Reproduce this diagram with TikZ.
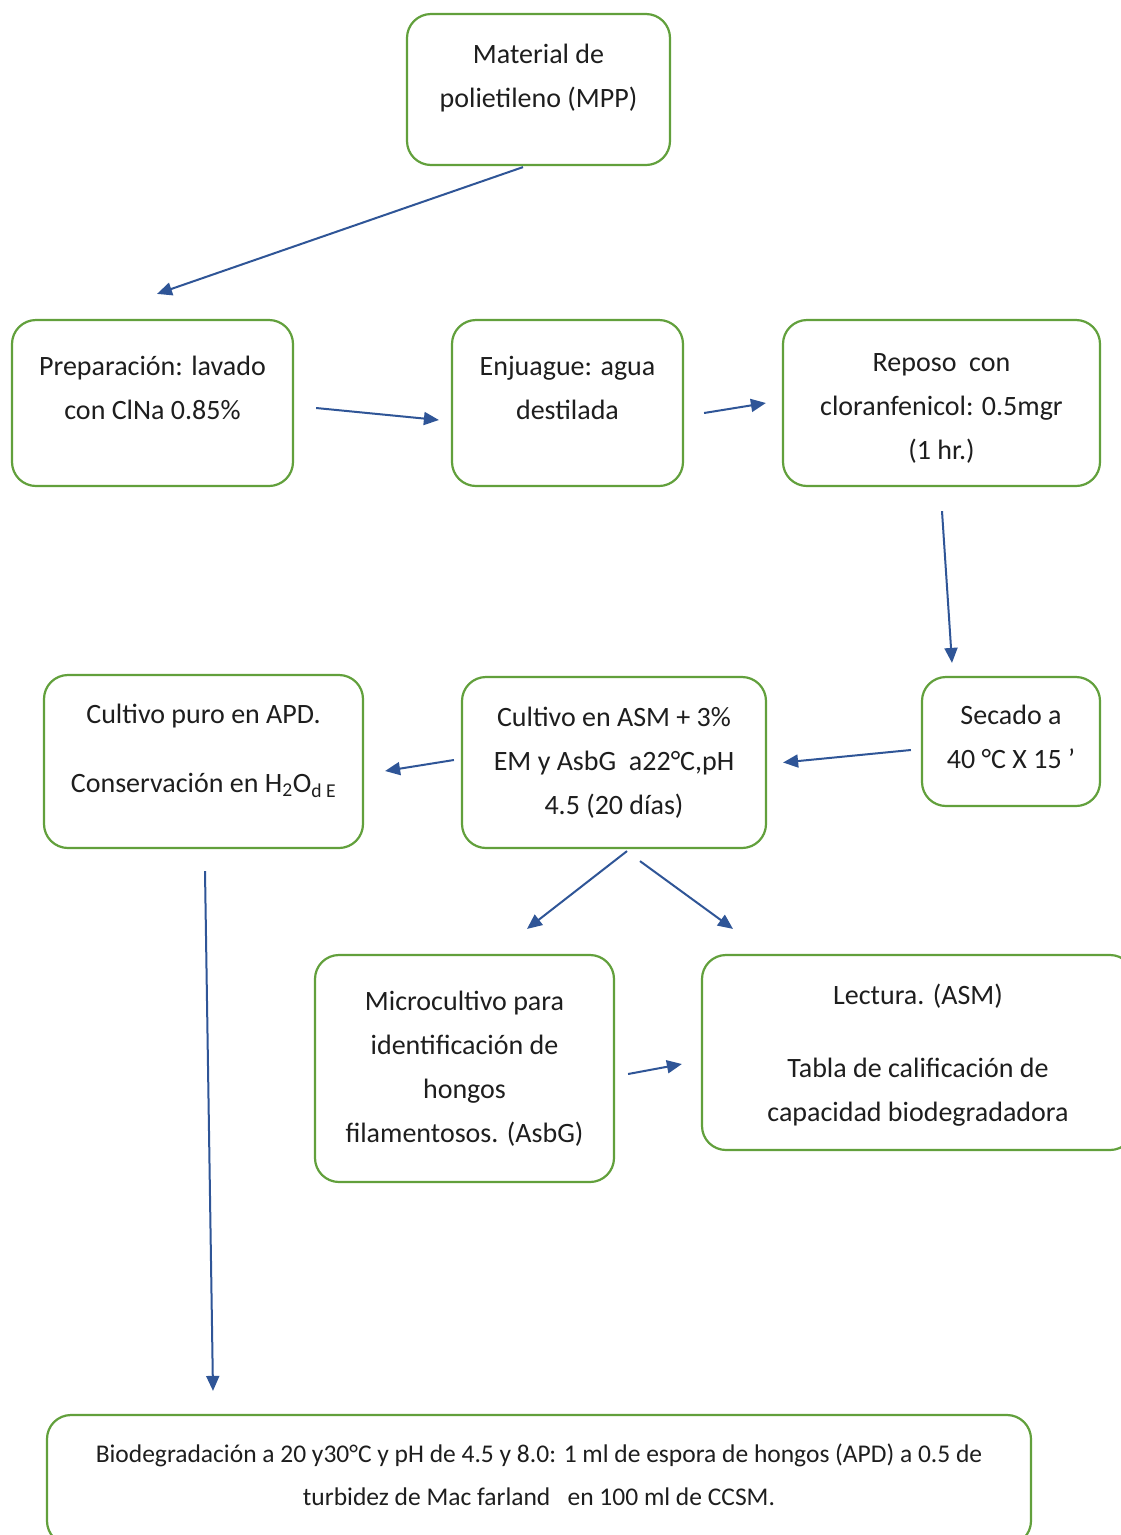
\documentclass[tikz,border=0pt]{standalone}
\usepackage{fontspec}
\setmainfont{Carlito}
\usepackage{tikz}
\usetikzlibrary{arrows.meta}
\definecolor{verde}{RGB}{98,160,60}
\definecolor{azul}{RGB}{47,85,151}
\definecolor{texto}{RGB}{30,30,30}
\tikzset{>/.tip={Triangle[length=15pt,width=13pt]}}
\newcommand{\bajo}[1]{\rule[-#1pt]{0pt}{#1pt}}

\begin{document}
\begin{tikzpicture}[x=1pt,y=-1pt,
  caja/.style={draw=verde, line width=2.2pt, rounded corners=24pt, align=center,
    text=texto, inner sep=0pt, font=\fontsize{28}{44}\selectfont},
  flecha/.style={->, draw=azul, line width=2pt}]
\fill[white] (0,0) rectangle (1121,1535);
\useasboundingbox (0,0) rectangle (1121,1535);
\node[caja, minimum width=263, minimum height=151] (mpp) at (538.5,89.5)
  {Material de\\polietileno (MPP)\bajo{27}};
\node[caja, minimum width=281, minimum height=166] (prep) at (152.5,403)
  {Preparación: lavado\\con ClNa 0.85\%\bajo{30}};
\node[caja, minimum width=231, minimum height=166] (enj) at (567.5,403)
  {Enjuague: agua\\destilada\bajo{30}};
\node[caja, minimum width=317, minimum height=166] (rep) at (941.5,403)
  {\rule{0pt}{29pt}Reposo~~con\\cloranfenicol: 0.5mgr\\(1 hr.)};
\node[caja, minimum width=178, minimum height=129] (sec) at (1011,741.5)
  {Secado a\\40 °C X 15 ’\bajo{10}};
\node[caja, minimum width=304, minimum height=171] (asm) at (614,762.5)
  {Cultivo en ASM + 3\%\\EM y AsbG~~a22°C,pH\\4.5 (20 días)};
\node[caja, minimum width=319, minimum height=173] (puro) at (203.5,761.5)
  {Cultivo puro en APD.\\[25pt]Conservación en H\textsubscript{2}O\textsubscript{d E}\bajo{27}};
\node[caja, minimum width=299, minimum height=227] (micro) at (464.5,1068.5)
  {Microcultivo para\\identificación de\\hongos\\filamentosos. (AsbG)};
\node[caja, minimum width=432, minimum height=195] (lect) at (918,1052.5)
  {\rule{0pt}{26pt}Lectura. (ASM)\\[29pt]Tabla de calificación de\\capacidad biodegradadora};
\node[caja, minimum width=984, minimum height=130, font=\fontsize{25.5}{43}\selectfont] (bio) at (539,1480)
  {Biodegradación a 20 y30°C y pH de 4.5 y 8.0: 1 ml de espora de hongos (APD) a 0.5 de\\turbidez de Mac farland~~~en 100 ml de CCSM.\bajo{11}};
% flechas
\draw[flecha] ([shift={(-15.5,1)}]mpp.south) to ([shift={(4.5,-25)}]prep.north);
\draw[flecha] ([shift={(22,5)}]prep.east) to ([shift={(-12,17)}]enj.west);
\draw[flecha] ([shift={(20,10)}]enj.east) to ([shift={(-16,0)}]rep.west);
\draw[flecha] ([shift={(0.5,24)}]rep.south) to ([shift={(-59,-13)}]sec.north);
\draw[flecha] ([shift={(-10,8.5)}]sec.west) to ([shift={(16,0)}]asm.east);
\draw[flecha] ([shift={(-7,-2.5)}]asm.west) to ([shift={(21,9.5)}]puro.east);
\draw[flecha] ([shift={(13,2)}]asm.south) to ([shift={(62.5,-25)}]micro.north);
\draw[flecha] ([shift={(26,12)}]asm.south) to ([shift={(-185,-25)}]lect.north);
\draw[flecha] ([shift={(13,5.5)}]micro.east) to ([shift={(-19,11.5)}]lect.west);
\draw[flecha] ([shift={(1.5,22)}]puro.south) to ([shift={(-326,-23)}]bio.north);
\end{tikzpicture}
\end{document}
